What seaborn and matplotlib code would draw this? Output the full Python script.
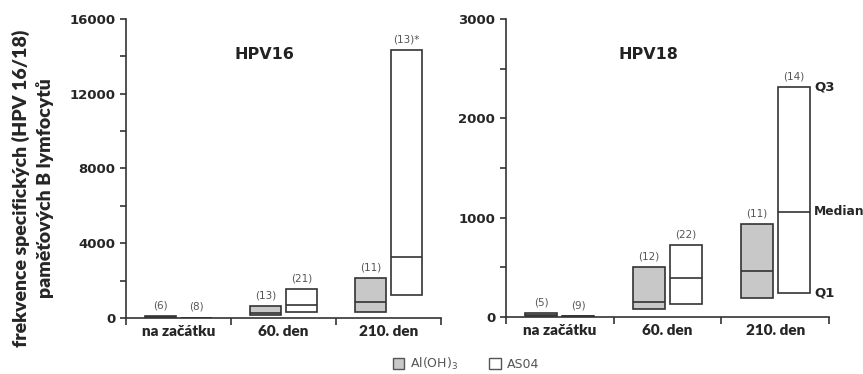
import matplotlib.pyplot as plt
import seaborn as sns
from matplotlib.patches import Patch

categories = ["na začátku", "60. den", "210. den"]
groups = ["Al(OH)$_3$", "AS04"]

# HPV16: quartiles per category for Al(OH)3 and AS04
hpv16_al_q1 = [10, 150, 340]
hpv16_al_med = [40, 280, 870]
hpv16_al_q3 = [80, 640, 2140]
hpv16_as_q1 = [5, 320, 1230]
hpv16_as_med = [10, 700, 3280]
hpv16_as_q3 = [20, 1550, 14340]
hpv16_al_n = ["(6)", "(13)", "(11)"]
hpv16_as_n = ["(8)", "(21)", "(13)*"]

# HPV18
hpv18_al_q1 = [5, 75, 185]
hpv18_al_med = [15, 151, 464]
hpv18_al_q3 = [35, 504, 931]
hpv18_as_q1 = [2, 128, 236]
hpv18_as_med = [5, 393, 1058]
hpv18_as_q3 = [10, 723, 2312]
hpv18_al_n = ["(5)", "(12)", "(11)"]
hpv18_as_n = ["(9)", "(22)", "(14)"]

sns.set_style("ticks")
plt.rcParams["font.family"] = ["DejaVu Sans"]
plt.rcParams["mathtext.fontset"] = "dejavusans"

EDGE = "#333333"
GRAY = "#c8c8c8"
OFF = 0.17
W = 0.30


def make_stats(q1, med, q3):
    return [dict(q1=a, med=b, q3=c, whislo=a, whishi=c, fliers=[])
            for a, b, c in zip(q1, med, q3)]


def draw_panel(ax, al, as04, al_n, as_n, ymax, major, minor, title):
    pos = range(len(categories))
    for stats, n, shift, fill in [(al, al_n, -OFF, GRAY), (as04, as_n, OFF, "white")]:
        xs = [p + shift for p in pos]
        ax.bxp(stats, positions=xs, widths=W, patch_artist=True,
               showcaps=False, showfliers=False, manage_ticks=False,
               boxprops=dict(facecolor=fill, edgecolor=EDGE, linewidth=1.2),
               medianprops=dict(color=EDGE, linewidth=1.2),
               whiskerprops=dict(linewidth=0))
        for x, s, lab in zip(xs, stats, n):
            ax.annotate(lab, (x, s["q3"]), xytext=(0, 4), textcoords="offset points",
                        ha="center", va="bottom", fontsize=7.5, color="#555555")
    ax.set_xlim(-0.5, len(categories) - 0.5)
    ax.set_ylim(0, ymax)
    ax.set_xticks([-0.5, 0.5, 1.5, 2.5])
    ax.set_xticklabels([])
    ax.set_xticks(list(pos), minor=True)
    ax.set_xticklabels(categories, minor=True, fontfamily="Lato",
                       fontweight="heavy", fontsize=11)
    ax.tick_params(axis="x", which="minor", length=0, pad=5)
    ax.tick_params(axis="x", which="major", length=5, width=1.2, color=EDGE)
    ax.set_yticks(major)
    ax.set_yticks(minor, minor=True)
    ax.tick_params(axis="y", which="both", length=4, width=1.2, color=EDGE,
                   labelsize=9.5)
    for lab in ax.get_yticklabels():
        lab.set_fontweight("bold")
    for s in ["left", "bottom"]:
        ax.spines[s].set_color(EDGE)
        ax.spines[s].set_linewidth(1.2)
    sns.despine(ax=ax)
    ax.text(0.44, 0.88, title, transform=ax.transAxes, ha="center", va="center",
            fontsize=11.5, fontweight="bold", color="#222222")


fig = plt.figure(figsize=(8.63, 3.74), dpi=100)
ax1 = fig.add_axes([0.146, 0.150, 0.365, 0.799])
ax2 = fig.add_axes([0.586, 0.153, 0.375, 0.796])

draw_panel(ax1, make_stats(hpv16_al_q1, hpv16_al_med, hpv16_al_q3),
           make_stats(hpv16_as_q1, hpv16_as_med, hpv16_as_q3),
           hpv16_al_n, hpv16_as_n, 16000,
           [0, 4000, 8000, 12000, 16000], [2000, 6000, 10000, 14000], "HPV16")
draw_panel(ax2, make_stats(hpv18_al_q1, hpv18_al_med, hpv18_al_q3),
           make_stats(hpv18_as_q1, hpv18_as_med, hpv18_as_q3),
           hpv18_al_n, hpv18_as_n, 3000,
           [0, 1000, 2000, 3000], [500, 1500, 2500], "HPV18")

# quartile key on the last AS04 box
x_key = 2 + OFF + W / 2
for lab, val, size in [("Q3", hpv18_as_q3[2], 9.5), ("Median", hpv18_as_med[2], 8.8),
                       ("Q1", hpv18_as_q1[2], 9.5)]:
    ax2.annotate(lab, (x_key, val), xytext=(3, 0), textcoords="offset points",
                 ha="left", va="center", fontsize=size, fontweight="bold",
                 annotation_clip=False)

fig.text(0.038, 0.497, "frekvence specifických (HPV 16/18)\npaměťových B lymfocytů",
         rotation=90, ha="center", va="center", ma="center", fontfamily="Lato",
         fontweight="heavy", fontsize=14, linespacing=1.35)

handles = [Patch(facecolor=GRAY, edgecolor="#555555"),
           Patch(facecolor="white", edgecolor="#555555")]
fig.legend(handles, groups, loc="center", bbox_to_anchor=(0.54, 0.027), ncol=2,
           frameon=False, fontsize=9, handlelength=0.9, handleheight=0.9,
           columnspacing=2.5, handletextpad=0.5, labelcolor="#555555")

fig.savefig("out.png", dpi=100)
